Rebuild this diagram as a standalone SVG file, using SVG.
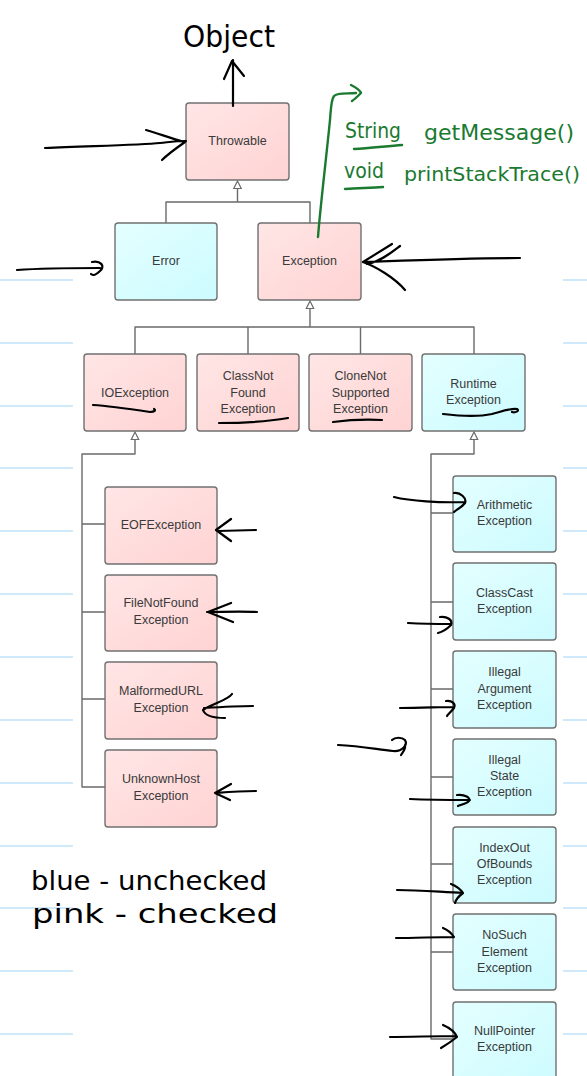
<svg xmlns="http://www.w3.org/2000/svg" width="587" height="1076" viewBox="0 0 587 1076">
<defs>
<linearGradient id="pink" x1="0" y1="0" x2="1" y2="1"><stop offset="0" stop-color="#ffe6e6"/><stop offset="1" stop-color="#ffd3d3"/></linearGradient>
<linearGradient id="blue" x1="0" y1="0" x2="1" y2="1"><stop offset="0" stop-color="#e4ffff"/><stop offset="1" stop-color="#ccfbff"/></linearGradient>
<style>
.pk{fill:url(#pink);stroke:#707070;stroke-width:1.4}
.bl{fill:url(#blue);stroke:#707070;stroke-width:1.4}
.t{font-family:"Liberation Sans",Arial,sans-serif;font-size:12.5px;fill:#3a3a3a;text-anchor:middle}
.c{fill:none;stroke:#6a6a6a;stroke-width:1.4;stroke-linejoin:round}
.tri{fill:#fff;stroke:#6a6a6a;stroke-width:1.2}
.ink{fill:none;stroke:#000;stroke-width:2.2;stroke-linecap:round;stroke-linejoin:round}
.g{fill:none;stroke:#1a7a30;stroke-width:2.4;stroke-linecap:round;stroke-linejoin:round}
.hw{font-family:"DejaVu Sans",sans-serif;fill:#000}
.hg{font-family:"DejaVu Sans",sans-serif;fill:#1a7a30}
.nl{stroke:#cfe9fb;stroke-width:2}
</style>
</defs>
<rect width="587" height="1076" fill="#fff"/>
<g id="paper-lines">
<path class="nl" d="M0,280H73M0,343H73M0,406H73M0,468H73M0,531H73M0,594H73M0,657H73M0,720H73M0,783H73M0,846H73M0,908H73M0,971H73M0,1034H73"/>
<path class="nl" d="M563,280H587M563,343H587M563,406H587M563,468H587M563,531H587M563,594H587M563,657H587M563,720H587M563,783H587M563,846H587M563,908H587M563,971H587M563,1034H587"/>
</g>
<g id="connectors">
<path class="c" d="M237.5,188V202H166V223M237.5,202H310V223"/>
<polygon class="tri" points="237.5,181 233.8,188.5 241.2,188.5"/>
<path class="c" d="M310,308V327H135V354M248,327V354M310,327H474V354M360.5,327V354"/>
<polygon class="tri" points="310,301 306.3,308.5 313.7,308.5"/>
<path class="c" d="M135,439V454H82V787H105M82,524H105M82,612H105M82,699H105"/>
<polygon class="tri" points="135,432 131.3,439.5 138.7,439.5"/>
<path class="c" d="M474,439V454H431V1039H453M431,513H453M431,602H453M431,689H453M431,777H453M431,864H453M431,952H453"/>
<polygon class="tri" points="474,432 470.3,439.5 477.7,439.5"/>
</g>
<g id="throwable"><rect class="pk" x="186" y="103" width="103" height="77" rx="3"/><text class="t" x="237.5" y="145">Throwable</text></g>
<g id="error"><rect class="bl" x="115" y="223" width="102" height="77" rx="3"/><text class="t" x="166" y="265">Error</text></g>
<g id="exception"><rect class="pk" x="258" y="223" width="103" height="77" rx="3"/><text class="t" x="309.5" y="265">Exception</text></g>
<g id="ioexception"><rect class="pk" x="84" y="354" width="102" height="77" rx="3"/><text class="t" x="135" y="397">IOException</text></g>
<g id="classnotfound"><rect class="pk" x="197" y="354" width="102" height="77" rx="3"/><text class="t" x="248" y="380">ClassNot</text><text class="t" x="248" y="397">Found</text><text class="t" x="248" y="413">Exception</text></g>
<g id="clonenotsupported"><rect class="pk" x="309" y="354" width="103" height="77" rx="3"/><text class="t" x="360.5" y="380">CloneNot</text><text class="t" x="360.5" y="397">Supported</text><text class="t" x="360.5" y="413">Exception</text></g>
<g id="runtime"><rect class="bl" x="422" y="354" width="103" height="77" rx="3"/><text class="t" x="473.5" y="388">Runtime</text><text class="t" x="473.5" y="404">Exception</text></g>
<g id="eof"><rect class="pk" x="105" y="487" width="112" height="77" rx="3"/><text class="t" x="161" y="529">EOFException</text></g>
<g id="filenotfound"><rect class="pk" x="105" y="575" width="112" height="76" rx="3"/><text class="t" x="161" y="607">FileNotFound</text><text class="t" x="161" y="624">Exception</text></g>
<g id="malformedurl"><rect class="pk" x="105" y="662" width="112" height="77" rx="3"/><text class="t" x="161" y="695">MalformedURL</text><text class="t" x="161" y="712">Exception</text></g>
<g id="unknownhost"><rect class="pk" x="105" y="750" width="112" height="77" rx="3"/><text class="t" x="161" y="783">UnknownHost</text><text class="t" x="161" y="800">Exception</text></g>
<g id="arithmetic"><rect class="bl" x="453" y="476" width="103" height="76" rx="3"/><text class="t" x="504.5" y="509">Arithmetic</text><text class="t" x="504.5" y="525">Exception</text></g>
<g id="classcast"><rect class="bl" x="453" y="563" width="103" height="77" rx="3"/><text class="t" x="504.5" y="597">ClassCast</text><text class="t" x="504.5" y="613">Exception</text></g>
<g id="illegalargument"><rect class="bl" x="453" y="651" width="103" height="77" rx="3"/><text class="t" x="504.5" y="676">Illegal</text><text class="t" x="504.5" y="693">Argument</text><text class="t" x="504.5" y="709">Exception</text></g>
<g id="illegalstate"><rect class="bl" x="453" y="739" width="103" height="76" rx="3"/><text class="t" x="504.5" y="764">Illegal</text><text class="t" x="504.5" y="780">State</text><text class="t" x="504.5" y="796">Exception</text></g>
<g id="indexoutofbounds"><rect class="bl" x="453" y="827" width="103" height="76" rx="3"/><text class="t" x="504.5" y="852">IndexOut</text><text class="t" x="504.5" y="868">OfBounds</text><text class="t" x="504.5" y="884">Exception</text></g>
<g id="nosuchelement"><rect class="bl" x="453" y="914" width="103" height="76" rx="3"/><text class="t" x="504.5" y="939">NoSuch</text><text class="t" x="504.5" y="956">Element</text><text class="t" x="504.5" y="972">Exception</text></g>
<g id="nullpointer"><rect class="bl" x="453" y="1002" width="103" height="90" rx="3"/><text class="t" x="504.5" y="1035">NullPointer</text><text class="t" x="504.5" y="1051">Exception</text></g>
<g id="annotations">
<text class="hw" x="183" y="47" font-size="30" textLength="92" lengthAdjust="spacingAndGlyphs">Object</text>
<path class="ink" d="M233,106L233,60M224,79L232,61L244,76"/>
<path class="ink" d="M45,148C90,146 140,145 160,143C170,142 175,141 186,141M146,130C160,134 170,138 185,142C175,149 168,154 162,160"/>
<path class="ink" d="M17,270C45,268 75,268 100,268M92,262C100,260 106,266 100,271C97,274 93,276 91,274"/>
<path class="ink" d="M520,258C470,258 420,260 363,262M363,262L392,244M363,262C375,266 395,278 405,290M367,264C380,262 392,252 400,246"/>
<path class="ink" d="M256,530L218,531M231,519L216,530L231,541"/>
<path class="ink" d="M257,612C240,611 220,612 207,612M231,603L208,612L233,622"/>
<path class="ink" d="M253,706C238,706 220,707 204,708M232,694C228,700 212,704 203,710C205,716 215,718 225,718"/>
<path class="ink" d="M256,791C240,791 228,792 215,793M231,784L215,793L230,800"/>
<path class="ink" d="M394,497C410,501 440,503 465,502M454,493C460,492 467,498 465,503C462,507 456,510 454,512"/>
<path class="ink" d="M408,623C425,624 440,624 451,624M440,617C447,616 453,620 451,625C447,629 442,632 438,633"/>
<path class="ink" d="M400,708C420,708 440,707 454,707M446,701C452,700 456,704 454,708C451,712 448,714 447,716"/>
<path class="ink" d="M338,745C360,746 375,749 393,751C402,752 408,745 405,740C402,737 395,737 392,740M405,745C406,749 403,752 401,755"/>
<path class="ink" d="M410,799C430,800 450,800 470,800M457,795C465,794 471,798 469,801C466,804 460,805 458,806"/>
<path class="ink" d="M397,890C420,890 440,892 463,893M451,884C456,886 461,890 463,893C459,896 456,899 455,903"/>
<path class="ink" d="M396,938C415,938 435,937 454,937M443,928C448,930 452,934 454,937"/>
<path class="ink" d="M390,1037C410,1037 435,1036 456,1036M443,1025C450,1028 455,1032 457,1037C452,1041 446,1045 441,1048"/>
<path class="ink" d="M93,405C110,406 130,409 150,412C155,412 156,410 154,409"/>
<path class="ink" d="M219,423C240,423 265,422 288,418"/>
<path class="ink" d="M333,422C348,420 365,419 382,420"/>
<path class="ink" d="M443,414C460,416 478,417 492,414C500,412 510,408 517,409C520,411 515,413 512,412"/>
<text class="hw" x="31" y="890" font-size="27" textLength="236" lengthAdjust="spacingAndGlyphs">blue - unchecked</text>
<text class="hw" x="32" y="923" font-size="27" textLength="246" lengthAdjust="spacingAndGlyphs">pink - checked</text>
<path class="g" d="M318,237C320,210 326,160 330,120C331,108 331,100 334,96C338,92 348,94 356,93M351,85C355,87 360,90 361,93C358,96 355,99 352,101"/>
<text class="hg" x="345" y="138" font-size="21" textLength="56" lengthAdjust="spacingAndGlyphs">String</text>
<text class="hg" x="424" y="140" font-size="21" textLength="150" lengthAdjust="spacingAndGlyphs">getMessage()</text>
<path class="g" d="M354,149C370,148 388,146 402,145"/>
<text class="hg" x="344" y="178" font-size="21" textLength="40" lengthAdjust="spacingAndGlyphs">void</text>
<text class="hg" x="404" y="181" font-size="19" textLength="176" lengthAdjust="spacingAndGlyphs">printStackTrace()</text>
<path class="g" d="M345,189C360,188 372,188 383,187"/>
</g>
</svg>
